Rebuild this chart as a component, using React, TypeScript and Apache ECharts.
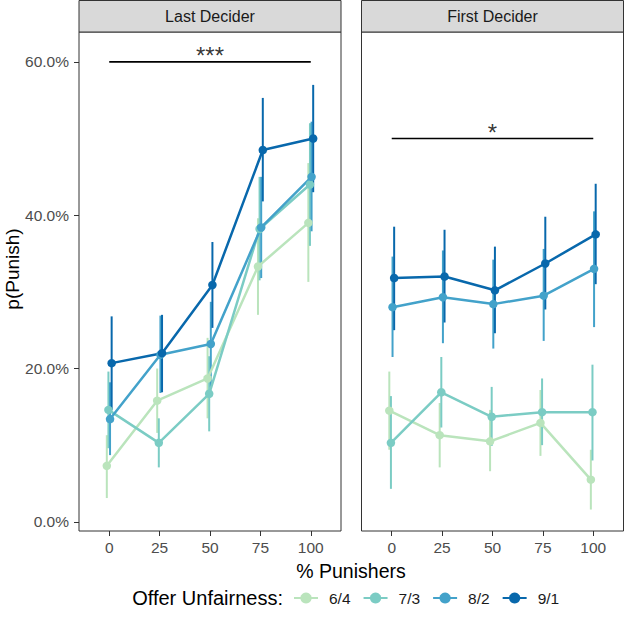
import React, { useEffect, useRef } from "react";
import * as echarts from "echarts";

const xValues = [0, 25, 50, 75, 100];
const groups = ["6/4", "7/3", "8/2", "9/1"];
const colors = ["#bae4bc", "#7bccc4", "#43a2ca", "#0868ac"];
const dodge = [-1.2, -0.4, 0.4, 1.2];
const yTicks = [0, 20, 40, 60];
const panels = ["Last Decider", "First Decider"];

// Last Decider: mean, lower, upper (percent)
const last64 = [7.3, 15.8, 18.7, 33.3, 39.0];
const last64Lo = [3.1, 11.6, 13.5, 27.0, 31.3];
const last64Hi = [11.3, 20.0, 24.0, 39.6, 46.8];
const last73 = [14.6, 10.3, 16.7, 38.2, 44.0];
const last73Lo = [9.6, 7.1, 11.8, 31.5, 36.0];
const last73Hi = [19.6, 13.5, 21.6, 45.0, 52.0];
const last82 = [13.4, 21.8, 23.2, 38.4, 45.0];
const last82Lo = [8.7, 16.8, 17.6, 31.8, 37.9];
const last82Hi = [18.2, 26.9, 28.7, 45.0, 52.2];
const last91 = [20.7, 22.0, 30.9, 48.5, 50.0];
const last91Lo = [14.6, 16.9, 25.3, 41.8, 43.0];
const last91Hi = [26.8, 27.0, 36.5, 55.3, 57.0];

// First Decider
const first64 = [14.5, 11.3, 10.5, 12.9, 5.5];
const first64Lo = [9.4, 7.1, 6.6, 8.6, 1.6];
const first64Hi = [19.6, 15.5, 14.6, 17.2, 9.4];
const first73 = [10.3, 16.9, 13.7, 14.3, 14.3];
const first73Lo = [4.3, 12.3, 9.9, 10.0, 8.0];
const first73Hi = [16.4, 21.5, 17.6, 18.7, 20.5];
const first82 = [28.0, 29.3, 28.4, 29.5, 33.0];
const first82Lo = [21.5, 23.3, 22.6, 23.6, 25.4];
const first82Hi = [34.6, 35.4, 34.2, 35.6, 40.5];
const first91 = [31.8, 32.0, 30.2, 33.7, 37.5];
const first91Lo = [25.0, 26.0, 24.6, 27.7, 31.0];
const first91Hi = [38.5, 38.1, 35.9, 39.8, 44.1];

// significance brackets
const sigY = [60, 50];
const sigLabels = ["***", "*"];
const sigFrom = 0;
const sigTo = 100;

const panelData = [
  {
    mean: [last64, last73, last82, last91],
    lo: [last64Lo, last73Lo, last82Lo, last91Lo],
    hi: [last64Hi, last73Hi, last82Hi, last91Hi],
  },
  {
    mean: [first64, first73, first82, first91],
    lo: [first64Lo, first73Lo, first82Lo, first91Lo],
    hi: [first64Hi, first73Hi, first82Hi, first91Hi],
  },
];

const FONT = "Liberation Sans, Arial, Helvetica, sans-serif";
const SMALL = 15.5;

export default function App() {
  const ref = useRef<HTMLDivElement>(null);
  useEffect(() => {
    if (!ref.current) return;
    const chart = echarts.init(ref.current, null, { renderer: "svg" });
    const gridLefts = [79, 361.5];
    const gridW = 262;
    const gridTop = 32;
    const gridH = 499;

    const series: any[] = [];
    panelData.forEach((pd, p) => {
      groups.forEach((g, gi) => {
        const color = colors[gi];
        series.push({
          type: "custom",
          name: g + " err",
          xAxisIndex: p,
          yAxisIndex: p,
          silent: true,
          data: xValues.map((x, i) => [x + dodge[gi], pd.lo[gi][i], pd.hi[gi][i]]),
          encode: { x: 0, y: [1, 2] },
          renderItem: (params: any, api: any) => {
            const a = api.coord([api.value(0), api.value(1)]);
            const b = api.coord([api.value(0), api.value(2)]);
            return {
              type: "line",
              shape: { x1: a[0], y1: a[1], x2: b[0], y2: b[1] },
              style: { stroke: color, lineWidth: 2 },
            };
          },
        });
        series.push({
          type: "line",
          name: g,
          xAxisIndex: p,
          yAxisIndex: p,
          data: xValues.map((x, i) => [x + dodge[gi], pd.mean[gi][i]]),
          symbol: "circle",
          symbolSize: 8.5,
          showSymbol: true,
          lineStyle: { color, width: 2.5 },
          itemStyle: { color },
          silent: true,
        });
      });
      series.push({
        type: "line",
        name: "sig" + p,
        xAxisIndex: p,
        yAxisIndex: p,
        data: [
          [sigFrom, sigY[p]],
          [sigTo, sigY[p]],
        ],
        symbol: "none",
        lineStyle: { color: "#000", width: 1.6 },
        silent: true,
      });
      series.push({
        type: "scatter",
        name: "siglabel" + p,
        xAxisIndex: p,
        yAxisIndex: p,
        data: [[(sigFrom + sigTo) / 2, sigY[p]]],
        symbolSize: 0.1,
        itemStyle: { color: "transparent" },
        label: {
          show: true,
          formatter: sigLabels[p],
          position: "top",
          distance: -6,
          fontSize: 24,
          color: "#000",
          fontFamily: FONT,
        },
        silent: true,
      });
    });

    const option: any = {
      animation: false,
      textStyle: { fontFamily: FONT },
      grid: gridLefts.map((l) => ({
        left: l,
        top: gridTop,
        width: gridW,
        height: gridH,
        show: true,
        borderColor: "#333333",
        borderWidth: 1,
        backgroundColor: "#ffffff",
      })),
      xAxis: [0, 1].map((p) => ({
        type: "value",
        gridIndex: p,
        min: -15,
        max: 115,
        splitLine: { show: false },
        axisLine: { show: false, onZero: false },
        axisTick: { show: true, customValues: xValues, length: 5, lineStyle: { color: "#333333" } },
        axisLabel: {
          customValues: xValues,
          color: "#4d4d4d",
          fontSize: SMALL,
          margin: 8,
          fontFamily: FONT,
        },
      })),
      yAxis: [0, 1].map((p) => ({
        type: "value",
        gridIndex: p,
        min: -1.2,
        max: 63.9,
        splitLine: { show: false },
        axisLine: { show: false, onZero: false },
        axisTick: { show: p === 0, customValues: yTicks, length: 5, lineStyle: { color: "#333333" } },
        axisLabel: {
          show: p === 0,
          customValues: yTicks,
          formatter: (v: number) => v.toFixed(1) + "%",
          color: "#4d4d4d",
          fontSize: SMALL,
          margin: 10,
          fontFamily: FONT,
        },
      })),
      legend: {
        data: groups,
        left: 293,
        top: 590,
        padding: 0,
        itemWidth: 24,
        itemHeight: 14,
        itemGap: 12,
        selectedMode: false,
        textStyle: { fontSize: SMALL, color: "#1a1a1a", fontFamily: FONT, padding: [0, 0, 0, 6] },
      },
      graphic: [
        ...panels.flatMap((name, p) => [
          {
            type: "rect",
            shape: { x: gridLefts[p], y: 0.5, width: gridW, height: gridTop - 0.5 },
            style: { fill: "#d9d9d9", stroke: "#333333", lineWidth: 1 },
          },
          {
            type: "text",
            x: gridLefts[p] + gridW / 2,
            y: gridTop / 2 + 0.5,
            style: {
              text: name,
              align: "center",
              verticalAlign: "middle",
              fontSize: 16,
              fill: "#1a1a1a",
              fontFamily: FONT,
            },
          },
        ]),
        {
          type: "text",
          x: 12,
          y: 269,
          rotation: Math.PI / 2,
          style: {
            text: "p(Punish)",
            align: "center",
            verticalAlign: "middle",
            fontSize: 19,
            fill: "#000",
            fontFamily: FONT,
          },
        },
        {
          type: "text",
          x: 351,
          y: 571,
          style: {
            text: "% Punishers",
            align: "center",
            verticalAlign: "middle",
            fontSize: 19.5,
            fill: "#000",
            fontFamily: FONT,
          },
        },
        {
          type: "text",
          x: 283,
          y: 597.5,
          style: {
            text: "Offer Unfairness:",
            align: "right",
            verticalAlign: "middle",
            fontSize: 20,
            fill: "#000",
            fontFamily: FONT,
          },
        },
      ],
      series,
    };
    chart.setOption(option);
    return () => chart.dispose();
  }, []);
  return (
    <div
      ref={ref}
      style={{ position: "fixed", left: 0, top: 0, width: 625, height: 617, background: "#fff" }}
    />
  );
}
